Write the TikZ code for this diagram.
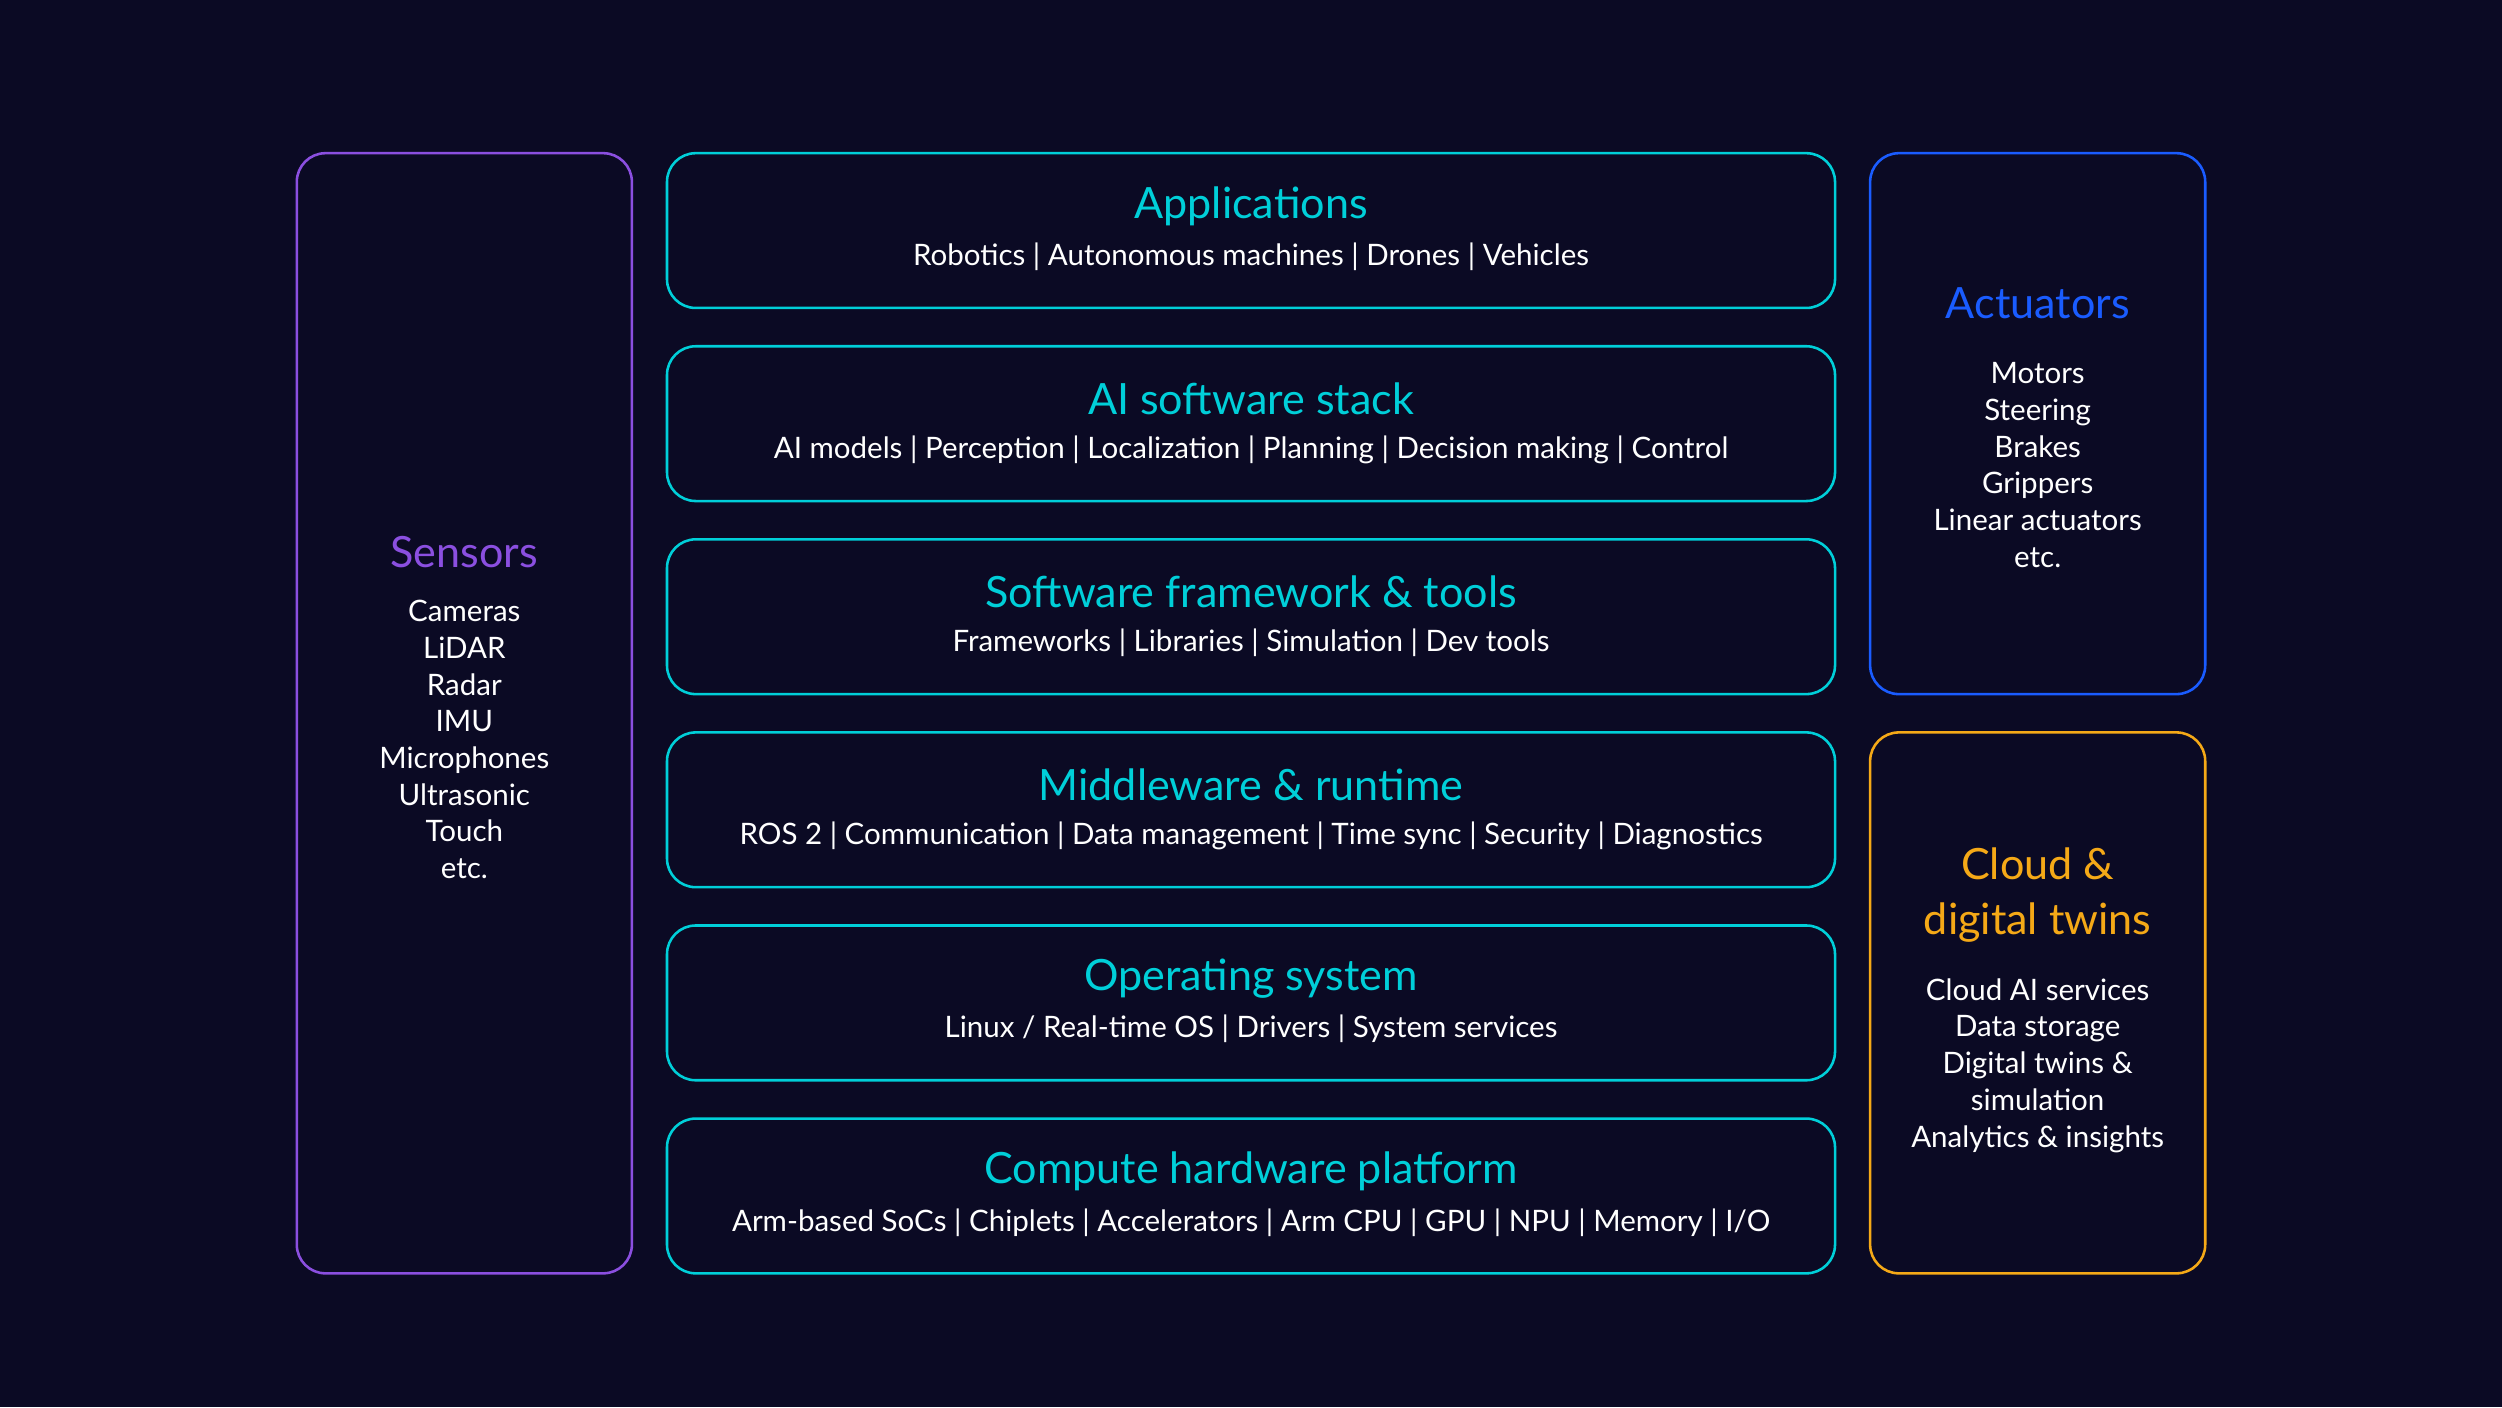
\documentclass[tikz,border=0pt]{standalone}
\usepackage{fontspec}
\setmainfont{Lato}
\definecolor{bg}{HTML}{0B0A24}
\definecolor{cy}{HTML}{00CFD9}
\definecolor{pu}{HTML}{8B4FE0}
\definecolor{bl}{HTML}{1A5CFF}
\definecolor{or}{HTML}{F5A917}
\begin{document}
\begin{tikzpicture}[x=1pt,y=-1pt,
  box/.style={draw=#1,line width=1.6pt,rounded corners=18pt},
  ttl/.style={text=#1,font=\fontsize{27}{32}\selectfont,anchor=center,inner sep=0pt},
  sub/.style={text=white,font=\fontsize{18.5}{23}\selectfont,anchor=center,inner sep=0pt,align=center}]
\fill[bg] (0,0) rectangle (1568,882);
\useasboundingbox (0,0) rectangle (1568,882);
\draw[box=pu] (186,96) rectangle (396,798);
\node[ttl=pu] (st) at (291,346) {Sensors};
\node[sub,anchor=north] (sl) at (291,376) {Cameras\\LiDAR\\Radar\\IMU\\Microphones\\Ultrasonic\\Touch\\etc.};
\foreach \t/\s/\i in {Applications/{Robotics | Autonomous machines | Drones | Vehicles}/0,
  AI software stack/{AI models | Perception | Localization | Planning | Decision making | Control}/1,
  Software framework \& tools/{Frameworks | Libraries | Simulation | Dev tools}/2,
  Middleware \& runtime/{ROS 2 | Communication | Data management | Time sync | Security | Diagnostics}/3,
  Operating system/{Linux / Real-time OS | Drivers | System services}/4,
  Compute hardware platform/{Arm-based SoCs | Chiplets | Accelerators | Arm CPU | GPU | NPU | Memory | I/O}/5}{
  \draw[box=cy] (418,96+121*\i) rectangle (1150,193+121*\i);
  \node[ttl=cy] (t\i) at (784,129+121*\i) {\t};
  \node[sub] (s\i) at (784,161+121*\i) {\s};
}
\draw[box=bl] (1172,96) rectangle (1382,435);
\node[ttl=bl] (at) at (1277,190) {Actuators};
\node[sub,anchor=north] (al) at (1277,227) {Motors\\Steering\\Brakes\\Grippers\\Linear actuators\\etc.};
\draw[box=or] (1172,459) rectangle (1382,798);
\node[ttl=or,align=center,font=\fontsize{27}{34}\selectfont] (ct) at (1277,561) {Cloud \&\\digital twins};
\node[sub,anchor=north] (cl) at (1277,613) {Cloud AI services\\Data storage\\Digital twins \&\\simulation\\Analytics \& insights};
\end{tikzpicture}
\end{document}
